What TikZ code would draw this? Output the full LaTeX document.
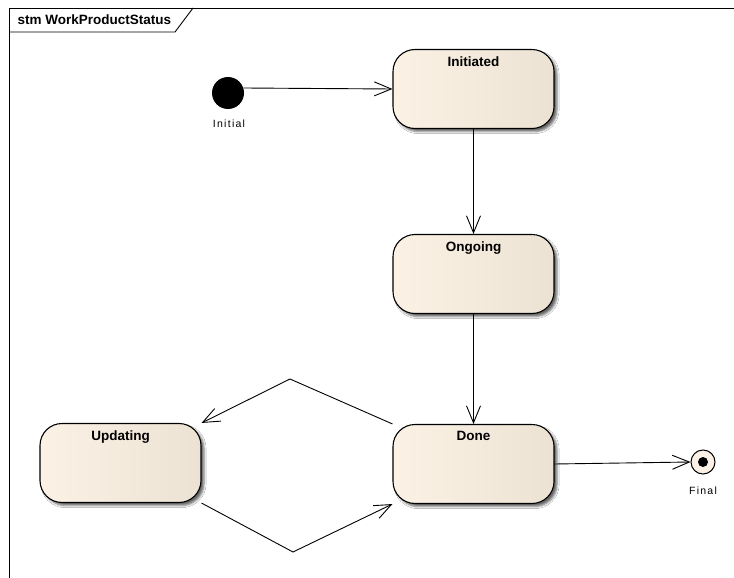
\documentclass[tikz,border=0pt]{standalone}
\usepackage{fontspec}
\setmainfont{Liberation Sans}
\newfontfamily\spacedfont[LetterSpace=12]{Liberation Sans}
\usetikzlibrary{arrows.meta,shadows.blur}
\definecolor{stateleft}{RGB}{251,242,229}
\definecolor{stateright}{RGB}{236,226,212}

\begin{document}
\begin{tikzpicture}[x=1pt,y=-1pt,
  state/.style={draw,line width=1.1pt,rounded corners=22pt,minimum width=161pt,minimum height=79pt,
    left color=stateleft,right color=stateright,
    blur shadow={shadow xshift=3pt,shadow yshift=-3pt,shadow blur steps=4,shadow opacity=60}},
  statename/.style={anchor=north,yshift=-4pt,font=\bfseries\fontsize{13.5}{15}\selectfont},
  pseudo/.style={font=\spacedfont\fontsize{10.5}{12}\selectfont},
  trans/.style={line width=0.9pt,-{Straight Barb[length=17pt,width=14pt,line width=0.9pt]}}]
  \clip (0,0) rectangle (734,578);
  \fill[white] (0,0) rectangle (734,578);
  % frame with its name tab
  \draw[line width=0.9pt] (9,590) -- (9,8) -- (745,8);
  \draw[line width=0.9pt] (9,32) -- (175,32) -- (193,8);
  \node[anchor=west,font=\bfseries\fontsize{13.5}{15}\selectfont] (frametitle) at (14,20) {stm WorkProductStatus};

  % pseudo states
  \node[circle,fill=black,minimum size=32pt,inner sep=0pt] (init) at (228,93) {};
  \node[pseudo] (initlabel) at (229,124) {Initial};
  \node[circle,draw,line width=1pt,fill=stateleft,minimum size=24pt,inner sep=0pt] (final) at (703,462) {};
  \node[circle,fill=black,minimum size=10pt,inner sep=0pt] (finaldot) at (final) {};
  \node[pseudo] (finallabel) at (703,491) {Final};

  % states
  \node[state,label={[statename]north:Initiated}] (initiated) at (473.5,89) {};
  \node[state,label={[statename]north:Ongoing}] (ongoing) at (473.5,274) {};
  \node[state,label={[statename]north:Done}] (done) at (473.5,464) {};
  \node[state,label={[statename]north:Updating}] (updating) at (120.5,463) {};

  % bend points of the loop
  \coordinate (upper) at (290,379);
  \coordinate (lower) at (293,552);

  % transitions
  \draw[trans] (init.18) -- (initiated.west);
  \draw[trans] (initiated) -- (ongoing);
  \draw[trans] (ongoing) -- (done);
  \draw[trans] (done.east) -- (final.west);
  \draw[trans] (done.north west) -- (upper) -- (updating.north east);
  \draw[trans] (updating.south east) -- (lower) -- (done.south west);
\end{tikzpicture}
\end{document}
